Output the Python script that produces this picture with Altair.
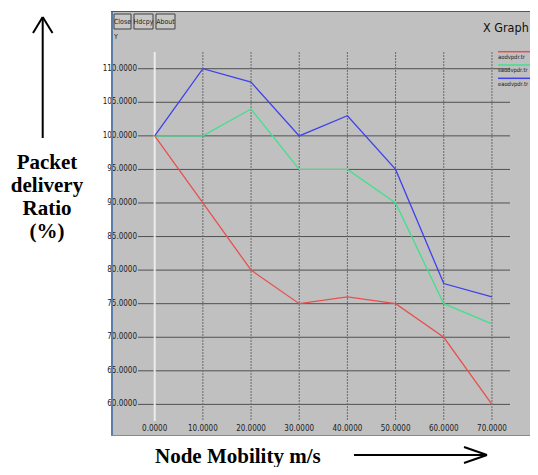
import altair as alt
import pandas as pd

# ---- data ----
speeds = [0, 10, 20, 30, 40, 50, 60, 70]
aodv = [100, 90, 80, 75, 76, 75, 70, 60]
saodv = [100, 100, 104, 95, 95, 90, 75, 72]
eaodv = [100, 110, 108, 100, 103, 95, 78, 76]
series_names = ["aodvpdr.tr", "saodvpdr.tr", "eaodvpdr.tr"]
series_colors = ["#e85050", "#40e08c", "#4040ec"]
y_ticks = [60, 65, 70, 75, 80, 85, 90, 95, 100, 105, 110]
x_ticks = [0, 10, 20, 30, 40, 50, 60, 70]
buttons = ["Close", "Hdcpy", "About"]
y_title_lines = ["Packet", "delivery", "Ratio", "(%)"]
x_title = "Node Mobility m/s"
graph_title = "X Graph"

NARROW = "Liberation Sans Narrow, DejaVu Sans Condensed, Arial Narrow, sans-serif"
SERIF = "Liberation Serif, Times New Roman, serif"

rows = []
for name, vals in zip(series_names, [aodv, saodv, eaodv]):
    for s, v in zip(speeds, vals):
        rows.append({"speed": s, "pdr": v, "series": name})
lines_df = pd.DataFrame(rows)
ytick_df = pd.DataFrame({"v": y_ticks})
xtick_df = pd.DataFrame({"v": x_ticks})
xgrid_df = pd.DataFrame({"v": [t for t in x_ticks if t != 0]})
xzero_df = pd.DataFrame({"v": [x_ticks[0]]})
one = pd.DataFrame({"a": [0]})

W, H = 419, 425
xs = alt.Scale(domain=[-9.07, 77.9], nice=False, zero=False)
ys = alt.Scale(domain=[55.29, 118.6], nice=False, zero=False)

X = lambda f: alt.X(f, type="quantitative", scale=xs, axis=None)
Y = lambda f: alt.Y(f, type="quantitative", scale=ys, axis=None)

layers = []

# horizontal grid lines
layers.append(
    alt.Chart(ytick_df).mark_rule(color="#505050", strokeWidth=1).encode(
        y=Y("v"), x=alt.value(27), x2=alt.value(399)
    )
)
# vertical dotted grid lines
layers.append(
    alt.Chart(xgrid_df).mark_rule(color="#6a6a6a", strokeWidth=1, strokeDash=[2, 1]).encode(
        x=X("v"), y=alt.value(41), y2=alt.value(410)
    )
)
layers.append(
    alt.Chart(xzero_df).mark_rule(color="#ececec", strokeWidth=2).encode(
        x=X("v"), y=alt.value(41), y2=alt.value(410)
    )
)
# tick labels
layers.append(
    alt.Chart(ytick_df).mark_text(align="right", baseline="middle", fontSize=8, font=NARROW, color="#202020").encode(
        y=Y("v"), x=alt.value(26), text=alt.Text("v:Q", format=".4f")
    )
)
layers.append(
    alt.Chart(xtick_df).mark_text(align="center", baseline="middle", fontSize=8, font=NARROW, color="#202020").encode(
        x=X("v"), y=alt.value(418), text=alt.Text("v:Q", format=".4f")
    )
)
# data lines
layers.append(
    alt.Chart(lines_df).mark_line(strokeWidth=1.3).encode(
        x=X("speed"), y=Y("pdr"),
        color=alt.Color("series:N", scale=alt.Scale(domain=series_names, range=series_colors), legend=None),
        detail="series:N",
    )
)
# legend (top right)
for i, (name, col) in enumerate(zip(series_names, series_colors)):
    layers.append(
        alt.Chart(one).mark_rule(color=col, strokeWidth=1.5).encode(
            x=alt.value(387), x2=alt.value(419), y=alt.value(40.7 + 13.3 * i)
        )
    )
    layers.append(
        alt.Chart(one).mark_text(align="left", baseline="middle", fontSize=5.8, font=NARROW, color="#202020").encode(
            x=alt.value(387), y=alt.value(46 + 13.3 * i), text=alt.value(name)
        )
    )
# window decorations: title, Y label, buttons, borders
layers.append(
    alt.Chart(one).mark_text(align="left", baseline="middle", fontSize=12.5, font=NARROW, color="#101010").encode(
        x=alt.value(372), y=alt.value(17), text=alt.value(graph_title)
    )
)
layers.append(
    alt.Chart(one).mark_text(align="left", baseline="middle", fontSize=7, font=NARROW, color="#202020").encode(
        x=alt.value(3), y=alt.value(26), text=alt.value("Y")
    )
)
bx = [(3, 20), (23, 42), (45, 64)]
for (x0, x1), b in zip(bx, buttons):
    layers.append(
        alt.Chart(one).mark_rect(fill="#c8c8c8", stroke="#404040", strokeWidth=1).encode(
            x=alt.value(x0), x2=alt.value(x1), y=alt.value(3), y2=alt.value(18)
        )
    )
    layers.append(
        alt.Chart(one).mark_text(align="center", baseline="middle", fontSize=7, font=NARROW, color="#202020").encode(
            x=alt.value((x0 + x1) / 2), y=alt.value(10.5), text=alt.value(b)
        )
    )
layers.append(
    alt.Chart(one).mark_rule(color="#5b7ca6", strokeWidth=2).encode(
        x=alt.value(1), y=alt.value(0), y2=alt.value(H)
    )
)
layers.append(
    alt.Chart(one).mark_rule(color="#555555", strokeWidth=1).encode(
        x=alt.value(0), x2=alt.value(W), y=alt.value(0.5)
    )
)
layers.append(
    alt.Chart(one).mark_rule(color="#8a8a8a", strokeWidth=1).encode(
        x=alt.value(0), x2=alt.value(W), y=alt.value(H - 0.5)
    )
)
# outer annotations: y title with up arrow
layers.append(
    alt.Chart(one).mark_text(align="center", baseline="alphabetic", fontSize=21, font=SERIF,
                             fontWeight="bold", color="#000000", lineHeight=23).encode(
        x=alt.value(-64), y=alt.value(158), text=alt.value(y_title_lines)
    )
)
for (a, b, c, d) in [(-68.3, 127, -68.3, 6), (-78, 22, -68.3, 6), (-58.5, 22, -68.3, 6)]:
    layers.append(
        alt.Chart(one).mark_rule(color="#000000", strokeWidth=2).encode(
            x=alt.value(a), y=alt.value(b), x2=alt.value(c), y2=alt.value(d)
        )
    )
# x title with right arrow
layers.append(
    alt.Chart(one).mark_text(align="left", baseline="alphabetic", fontSize=21, font=SERIF,
                             fontWeight="bold", color="#000000").encode(
        x=alt.value(44), y=alt.value(452), text=alt.value(x_title)
    )
)
for (a, b, c, d) in [(243, 444, 376, 444), (353, 436, 376, 444), (353, 452, 376, 444)]:
    layers.append(
        alt.Chart(one).mark_rule(color="#000000", strokeWidth=2).encode(
            x=alt.value(a), y=alt.value(b), x2=alt.value(c), y2=alt.value(d)
        )
    )

chart = alt.layer(*layers).properties(
    width=W, height=H,
    padding={"left": 103, "top": 3, "right": 0, "bottom": 31},
    autosize=alt.AutoSizeParams(type="none"),
    background="#ffffff",
).configure_view(fill="#c0c0c0", stroke=None)

chart.save("out.html", embed_options={"renderer": "svg", "actions": False})
